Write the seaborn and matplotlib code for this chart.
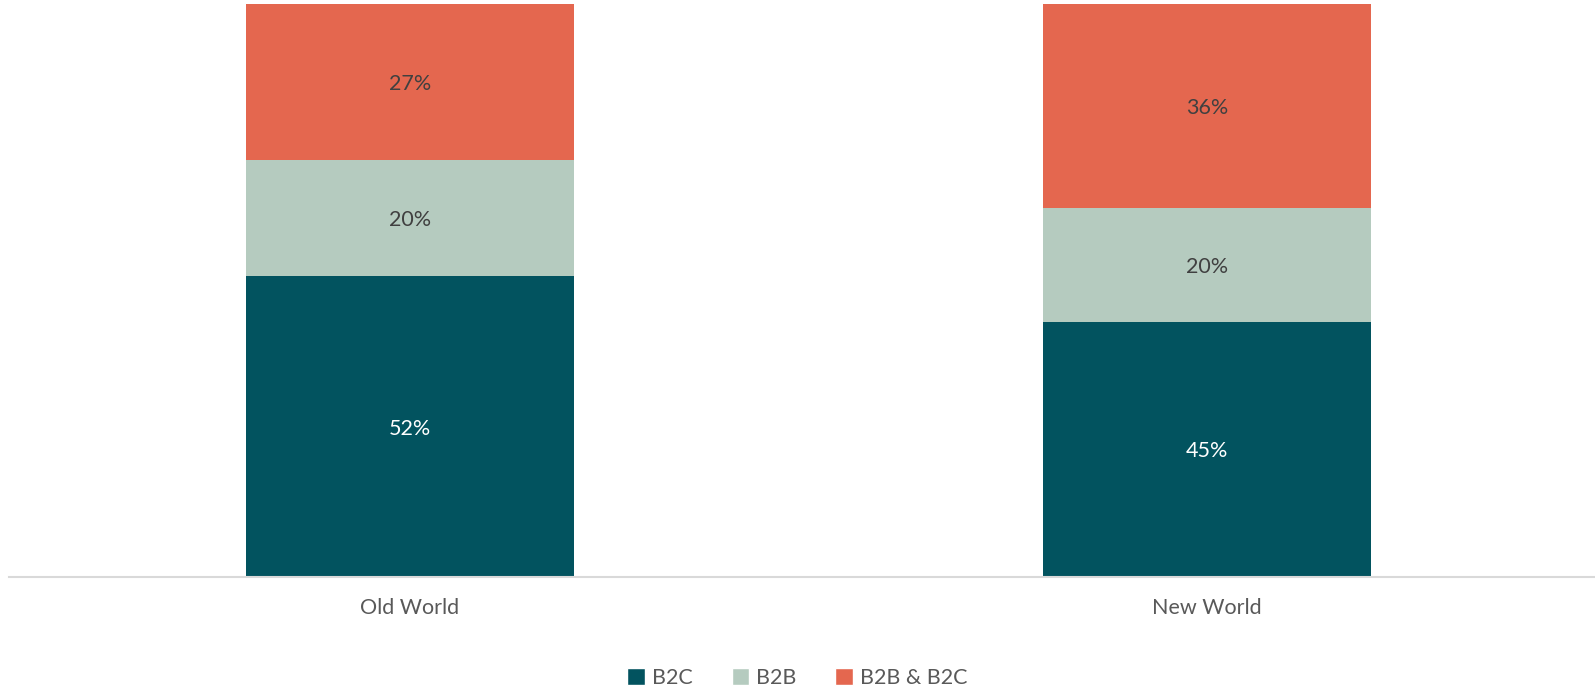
import pandas as pd
import numpy as np
import matplotlib.pyplot as plt
import seaborn as sns
from matplotlib.patches import Patch

# Data (100% stacked)
regions = ["Old World", "New World"]
b2c = [52, 45]
b2b = [20, 20]
both = [27, 36]

series = ["B2C", "B2B", "B2B & B2C"]
colors = {"B2C": "#02535F", "B2B": "#B5CBBF", "B2B & B2C": "#E4674F"}
text_colors = {"B2C": "white", "B2B": "#404040", "B2B & B2C": "#404040"}

df = pd.DataFrame({"Region": regions, "B2C": b2c, "B2B": b2b, "B2B & B2C": both})
totals = df[series].sum(axis=1)
pct = df[series].div(totals, axis=0) * 100
cum = pct.cumsum(axis=1)
cum["Region"] = df["Region"]

sns.set_style("white")
plt.rcParams["font.family"] = ["Lato", "DejaVu Sans"]

fig = plt.figure(figsize=(15.95, 6.88), dpi=100)
ax = fig.add_axes([9 / 1595, 1 - 577 / 688, 1 - 9 / 1595, (577 - 4) / 688])

# overlay cumulative bars, top layer first
for s in reversed(series):
    sns.barplot(data=cum, x="Region", y=s, color=colors[s], width=0.412,
                saturation=1, ax=ax, order=regions, linewidth=0)

# segment labels
for i, r in enumerate(regions):
    bottom = 0
    for s in series:
        h = pct.loc[i, s]
        ax.text(i, bottom + h / 2, f"{df.loc[i, s]}%", ha="center",
                va="center_baseline", fontsize=15.5, color=text_colors[s])
        bottom += h

ax.set_xlim(-0.503, 1.487)
ax.set_ylim(0, 100)
ax.set_xlabel("")
ax.set_ylabel("")
ax.set_yticks([])
for side in ["top", "right", "left"]:
    ax.spines[side].set_visible(False)
ax.spines["bottom"].set_color("#D9D9D9")
ax.spines["bottom"].set_linewidth(1.5)
ax.tick_params(axis="x", length=0, pad=15, labelsize=15.5, labelcolor="#595959")

handles = [Patch(facecolor=colors[s], label=s) for s in series]
fig.legend(handles=handles, loc="center", bbox_to_anchor=(0.5, 1 - 678 / 688),
           ncol=3, frameon=False, fontsize=15.5, labelcolor="#595959",
           handlelength=0.8, handleheight=0.8, handletextpad=0.35,
           columnspacing=1.8)

fig.savefig("out.png", dpi=100)
